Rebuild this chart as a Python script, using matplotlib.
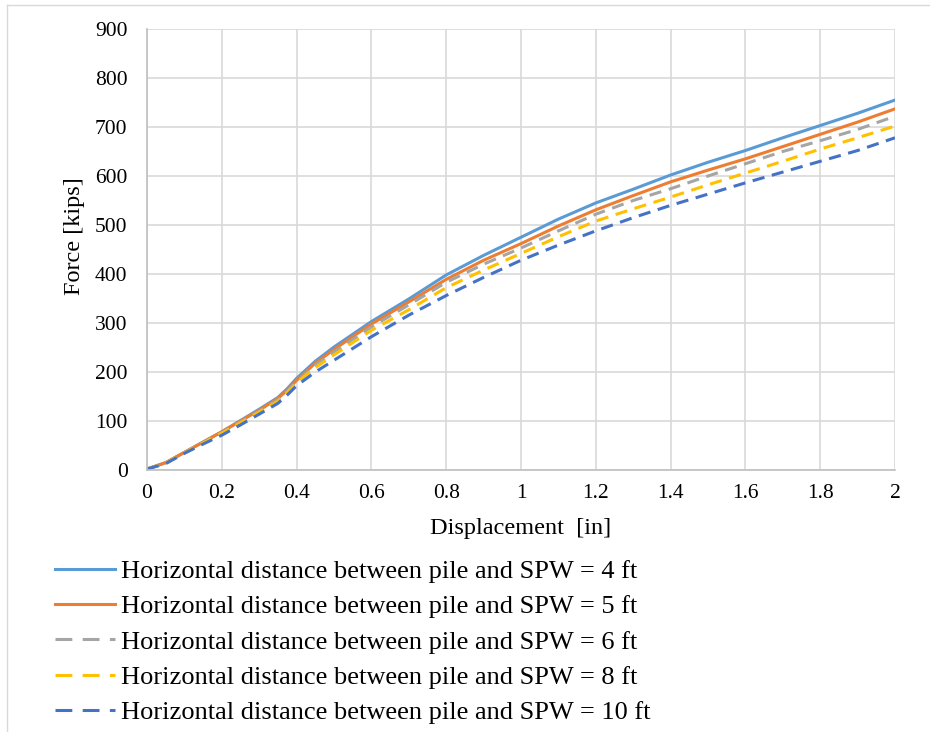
import matplotlib.pyplot as plt
from matplotlib.lines import Line2D

plt.rcParams["font.family"] = ["Liberation Serif", "DejaVu Serif"]

disp = [0, 0.05, 0.1, 0.15, 0.2, 0.25, 0.3, 0.35, 0.375, 0.4, 0.45, 0.5, 0.6, 0.7,
        0.8, 0.9, 1.0, 1.1, 1.2, 1.3, 1.4, 1.5, 1.6, 1.7, 1.8, 1.9, 2.0]
f_4ft = [2, 15, 36, 57, 78, 101, 124, 148, 166, 187, 222, 251, 303, 349,
         398, 438, 475, 512, 545, 573, 602, 628, 652, 678, 703, 728, 755]
f_5ft = [2, 15, 36, 57, 78, 100, 122, 146, 163, 183, 218, 246, 298, 343,
         389, 428, 462, 498, 531, 560, 588, 612, 635, 660, 685, 710, 737]
f_6ft = [2, 14, 35, 56, 76, 98, 120, 143, 160, 180, 214, 241, 292, 337,
         383, 420, 453, 488, 522, 550, 574, 600, 625, 650, 672, 695, 722]
f_8ft = [2, 14, 35, 55, 75, 96, 118, 140, 158, 178, 209, 235, 285, 327,
         372, 408, 442, 476, 508, 533, 557, 582, 606, 630, 655, 678, 702]
f_10ft = [2, 13, 34, 53, 71, 92, 114, 136, 153, 172, 200, 224, 272, 316,
          356, 393, 428, 459, 488, 515, 540, 563, 586, 608, 630, 652, 678]

labels = ["Horizontal distance between pile and SPW = 4 ft",
          "Horizontal distance between pile and SPW = 5 ft",
          "Horizontal distance between pile and SPW = 6 ft",
          "Horizontal distance between pile and SPW = 8 ft",
          "Horizontal distance between pile and SPW = 10 ft"]
colors = ["#5B9BD5", "#ED7D31", "#A5A5A5", "#FFC000", "#4472C4"]

fig = plt.figure(figsize=(9.3, 7.32), dpi=100)
ax = fig.add_axes([147 / 930, 1 - 470 / 732, 748 / 930, 441 / 732])

dash = (0, (4, 2.5))
styles = ["-", "-", dash, dash, dash]
for ys, c, st in zip([f_4ft, f_5ft, f_6ft, f_8ft, f_10ft], colors, styles):
    ax.plot(disp, ys, color=c, lw=2.2, ls=st)

ax.set_xlim(0, 2)
ax.set_ylim(0, 900)
ax.set_xticks([0, 0.2, 0.4, 0.6, 0.8, 1, 1.2, 1.4, 1.6, 1.8, 2])
ax.set_xticklabels(["0", "0.2", "0.4", "0.6", "0.8", "1", "1.2", "1.4", "1.6", "1.8", "2"])
ax.set_yticks(range(0, 901, 100))
ax.tick_params(length=0, labelsize=15.5)
ax.tick_params(axis="y", pad=14)
ax.tick_params(axis="x", pad=10)
ax.grid(True, color="#D9D9D9", lw=1.2)
ax.set_axisbelow(True)
for s in ["top", "right"]:
    ax.spines[s].set_visible(False)
for s in ["left", "bottom"]:
    ax.spines[s].set_color("#BFBFBF")
    ax.spines[s].set_linewidth(1.2)

ax.set_xlabel("Displacement  [in]", fontsize=17.5, labelpad=11)
ax.set_ylabel("Force [kips]", fontsize=17.5)
ax.yaxis.set_label_coords(-0.083, 0.53)

# legend handles with the longer dashes seen in the source legend
leg_dash = (0, (5.5, 3.4))
handles = [Line2D([], [], color=c, lw=2.2, ls=("-" if st == "-" else leg_dash))
           for c, st in zip(colors, styles)]
fig.legend(handles, labels, loc="upper left", bbox_to_anchor=(44 / 930, 1 - 549 / 732),
           frameon=False, fontsize=19, handlelength=2.3,
           handletextpad=0.2, labelspacing=0.45, borderaxespad=0)

# light border at top and left like the source
fig.add_artist(Line2D([7 / 930, 1], [1 - 5 / 732, 1 - 5 / 732], color="#D9D9D9", lw=1))
fig.add_artist(Line2D([7 / 930, 7 / 930], [0, 1 - 5 / 732], color="#D9D9D9", lw=1))

fig.savefig("out.png", dpi=100)
